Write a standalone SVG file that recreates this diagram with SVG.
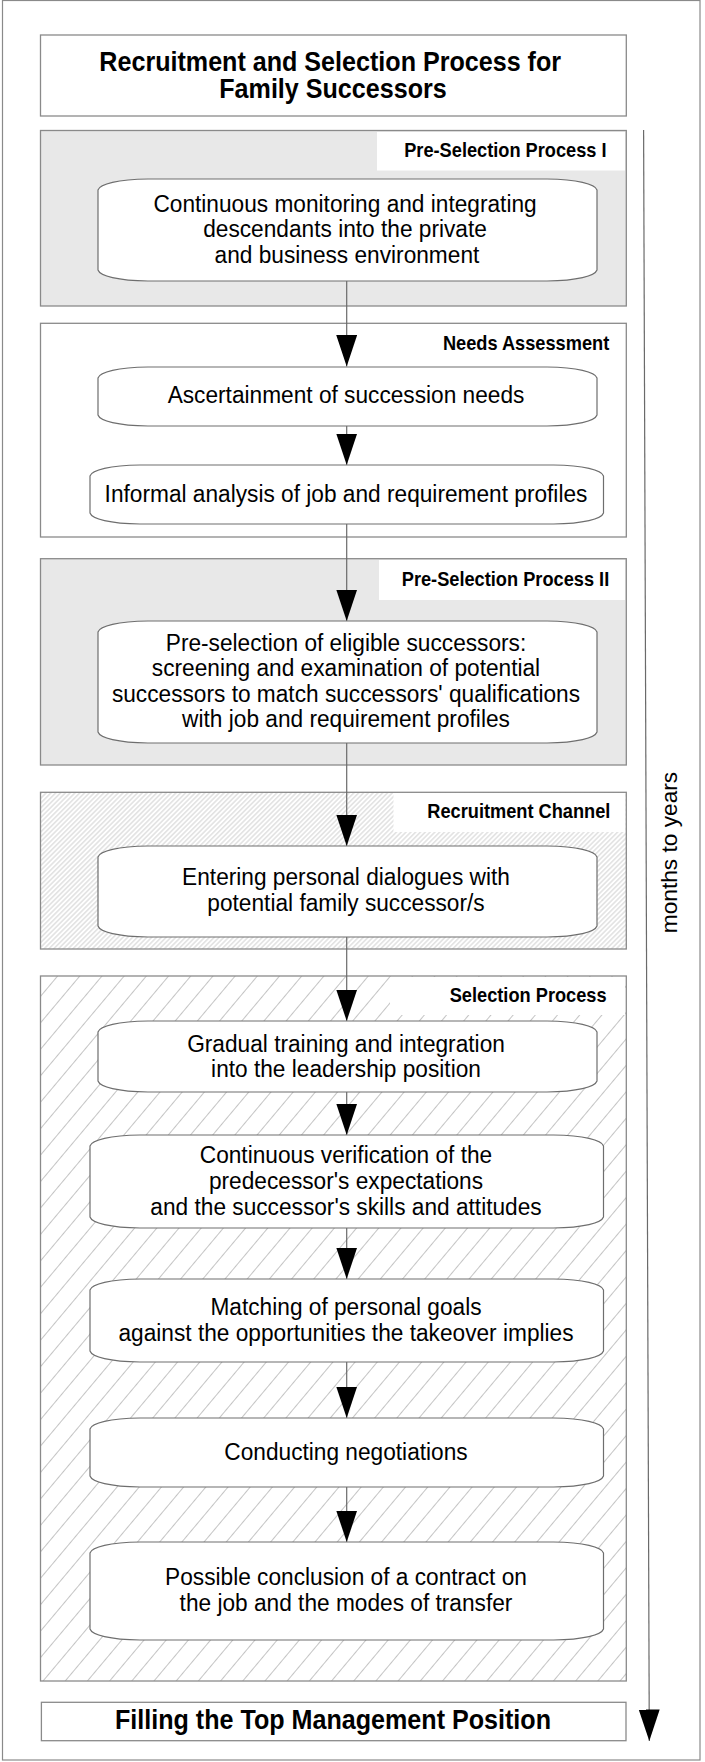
<svg xmlns="http://www.w3.org/2000/svg" width="705" height="1762" viewBox="0 0 705 1762">
  <defs>
    <style>
      .frame { fill: #ffffff; stroke: #8a8a8a; stroke-width: 1.2; }
      .box { stroke: #8a8a8a; stroke-width: 1.3; }
      .white { fill: #ffffff; }
      .grey { fill: #e8e8e8; }
      .labelbg { fill: #ffffff; stroke: none; }
      .node { fill: #ffffff; stroke: #6e6e6e; stroke-width: 1.2; }
      .conn { stroke: #6a6a6a; stroke-width: 1.2; fill: none; marker-end: url(#head); }
      /* condensed sans: glyphs are narrowed horizontally about each block's own axis */
      .title { font-family: "Liberation Sans", Arial, sans-serif; font-weight: bold; font-size: 27px; fill: #000; text-anchor: middle;
               transform-box: view-box; transform-origin: 333px 0px; transform: scaleX(0.93); }
      .label { font-family: "Liberation Sans", Arial, sans-serif; font-weight: bold; font-size: 19.6px; fill: #000; text-anchor: end;
               transform-box: view-box; transform-origin: 608px 0px; transform: scaleX(0.93); }
      .txt { font-family: "Liberation Sans", Arial, sans-serif; font-size: 24.4px; fill: #000; text-anchor: middle;
             transform-box: view-box; transform-origin: 346px 0px; transform: scaleX(0.93); }
      .vtxt { font-family: "Liberation Sans", Arial, sans-serif; font-size: 22.7px; fill: #000; text-anchor: middle; }
    </style>
    <marker id="head" markerUnits="userSpaceOnUse" markerWidth="32" markerHeight="22" refX="31.5" refY="10.5" orient="auto">
      <path d="M0,0 L31.5,10.5 L0,21 Z" fill="#000"/>
    </marker>
    <pattern id="hatchFine" patternUnits="userSpaceOnUse" width="3.4" height="10" patternTransform="rotate(45)">
      <line x1="1.7" y1="0" x2="1.7" y2="10" stroke="#c2c2c2" stroke-width="0.8"/>
    </pattern>
    <pattern id="hatchWide" patternUnits="userSpaceOnUse" width="17" height="10" patternTransform="rotate(40)">
      <line x1="8.5" y1="0" x2="8.5" y2="10" stroke="#c4c4c4" stroke-width="1"/>
    </pattern>
  </defs>

  <!-- outer frame -->
  <rect class="frame" x="2.5" y="0.5" width="697.5" height="1759.5"/>

  <!-- heading -->
  <g id="title">
    <rect class="box white" x="40.5" y="35" width="585.8" height="81"/>
    <text class="title" x="330" y="70.7">Recruitment and Selection Process for</text>
    <text class="title" x="333" y="98.3">Family Successors</text>
  </g>

  <!-- phase containers -->
  <g id="phase-preselection-1">
    <rect class="box grey" x="40.5" y="130.5" width="585.8" height="175.5"/>
    <rect class="labelbg" x="377" y="132" width="248" height="38.5"/>
    <text class="label" x="606.5" y="156.7">Pre-Selection Process I</text>
  </g>
  <g id="phase-needs">
    <rect class="box white" x="40.5" y="323.3" width="585.8" height="213.7"/>
    <text class="label" x="609.3" y="350">Needs Assessment</text>
  </g>
  <g id="phase-preselection-2">
    <rect class="box grey" x="40.5" y="558.7" width="585.8" height="206.3"/>
    <rect class="labelbg" x="379" y="560" width="246" height="40"/>
    <text class="label" x="609.3" y="586">Pre-Selection Process II</text>
  </g>
  <g id="phase-recruitment">
    <rect class="white" x="40.5" y="792.3" width="585.8" height="156.7"/>
    <rect fill="url(#hatchFine)" x="40.5" y="792.3" width="585.8" height="156.7"/>
    <rect class="labelbg" x="393.5" y="793" width="232" height="39"/>
    <rect class="box" fill="none" x="40.5" y="792.3" width="585.8" height="156.7"/>
    <text class="label" x="610.6" y="818.3">Recruitment Channel</text>
  </g>
  <g id="phase-selection">
    <rect class="white" x="40.5" y="976" width="585.8" height="705"/>
    <rect fill="url(#hatchWide)" x="40.5" y="976" width="585.8" height="705"/>
    <rect class="labelbg" x="390" y="977" width="235" height="38"/>
    <rect class="box" fill="none" x="40.5" y="976" width="585.8" height="705"/>
    <text class="label" x="606.5" y="1001.7">Selection Process</text>
  </g>
  <g id="result">
    <rect class="box white" x="41.4" y="1702.3" width="584.6" height="38.4"/>
    <text class="title" x="333" y="1729.3">Filling the Top Management Position</text>
  </g>

  <!-- time axis -->
  <g id="time-axis">
    <line class="conn" x1="643.6" y1="130" x2="649.3" y2="1741"/>
    <text class="vtxt" transform="translate(677,852.5) rotate(-90)">months to years</text>
  </g>

  <!-- flow connectors -->
  <g id="connectors">
    <line class="conn" x1="346.7" y1="281" x2="346.7" y2="366.5"/>
    <line class="conn" x1="346.7" y1="426" x2="346.7" y2="465"/>
    <line class="conn" x1="346.7" y1="524" x2="346.7" y2="621"/>
    <line class="conn" x1="346.7" y1="743" x2="346.7" y2="846"/>
    <line class="conn" x1="346.7" y1="937" x2="346.7" y2="1021"/>
    <line class="conn" x1="346.7" y1="1092" x2="346.7" y2="1135"/>
    <line class="conn" x1="346.7" y1="1228" x2="346.7" y2="1279"/>
    <line class="conn" x1="346.7" y1="1362" x2="346.7" y2="1418"/>
    <line class="conn" x1="346.7" y1="1487" x2="346.7" y2="1542"/>
  </g>

  <!-- process steps -->
  <g id="step-monitoring">
    <path class="node" d="M98,190 C100,184 118,179.5 148,179 L547,179 C577,179.5 595,184 597,190 L597,270 C595,276 577,280.5 547,281 L148,281 C118,280.5 100,276 98,270 Z"/>
    <text class="txt" x="345" y="212.3">Continuous monitoring and integrating</text>
    <text class="txt" x="345" y="237.3">descendants into the private</text>
    <text class="txt" x="347" y="263.3">and business environment</text>
  </g>
  <g id="step-needs">
    <path class="node" d="M98,378 C100,372 118,367.5 148,367 L547,367 C577,367.5 595,372 597,378 L597,415 C595,421 577,425.5 547,426 L148,426 C118,425.5 100,421 98,415 Z"/>
    <text class="txt" x="346" y="403.3">Ascertainment of succession needs</text>
  </g>
  <g id="step-profiles">
    <path class="node" d="M90,476 C92,470 110,465.5 140,465 L553.5,465 C583.5,465.5 601.5,470 603.5,476 L603.5,513 C601.5,519 583.5,523.5 553.5,524 L140,524 C110,523.5 92,519 90,513 Z"/>
    <text class="txt" x="346" y="501.7">Informal analysis of job and requirement profiles</text>
  </g>
  <g id="step-preselection">
    <path class="node" d="M98,632 C100,626 118,621.5 148,621 L547,621 C577,621.5 595,626 597,632 L597,732 C595,738 577,742.5 547,743 L148,743 C118,742.5 100,738 98,732 Z"/>
    <text class="txt" x="346" y="651">Pre-selection of eligible successors:</text>
    <text class="txt" x="346" y="676.5">screening and examination of potential</text>
    <text class="txt" x="346" y="702">successors to match successors' qualifications</text>
    <text class="txt" x="346" y="727">with job and requirement profiles</text>
  </g>
  <g id="step-dialogues">
    <path class="node" d="M98,857 C100,851 118,846.5 148,846 L547,846 C577,846.5 595,851 597,857 L597,926 C595,932 577,936.5 547,937 L148,937 C118,936.5 100,932 98,926 Z"/>
    <text class="txt" x="346" y="885">Entering personal dialogues with</text>
    <text class="txt" x="346" y="911.5">potential family successor/s</text>
  </g>
  <g id="step-training">
    <path class="node" d="M98,1032 C100,1026 118,1021.5 148,1021 L547,1021 C577,1021.5 595,1026 597,1032 L597,1081 C595,1087 577,1091.5 547,1092 L148,1092 C118,1091.5 100,1087 98,1081 Z"/>
    <text class="txt" x="346" y="1051.7">Gradual training and integration</text>
    <text class="txt" x="346" y="1076.7">into the leadership position</text>
  </g>
  <g id="step-verification">
    <path class="node" d="M90,1146 C92,1140 110,1135.5 140,1135 L553.5,1135 C583.5,1135.5 601.5,1140 603.5,1146 L603.5,1217 C601.5,1223 583.5,1227.5 553.5,1228 L140,1228 C110,1227.5 92,1223 90,1217 Z"/>
    <text class="txt" x="346" y="1163.3">Continuous verification of the</text>
    <text class="txt" x="346" y="1189.3">predecessor's expectations</text>
    <text class="txt" x="346" y="1215">and the successor's skills and attitudes</text>
  </g>
  <g id="step-matching">
    <path class="node" d="M90,1290 C92,1284 110,1279.5 140,1279 L553.5,1279 C583.5,1279.5 601.5,1284 603.5,1290 L603.5,1351 C601.5,1357 583.5,1361.5 553.5,1362 L140,1362 C110,1361.5 92,1357 90,1351 Z"/>
    <text class="txt" x="346" y="1315">Matching of personal goals</text>
    <text class="txt" x="346" y="1340.7">against the opportunities the takeover implies</text>
  </g>
  <g id="step-negotiations">
    <path class="node" d="M90,1429 C92,1423 110,1418.5 140,1418 L553.5,1418 C583.5,1418.5 601.5,1423 603.5,1429 L603.5,1476 C601.5,1482 583.5,1486.5 553.5,1487 L140,1487 C110,1486.5 92,1482 90,1476 Z"/>
    <text class="txt" x="346" y="1460">Conducting negotiations</text>
  </g>
  <g id="step-contract">
    <path class="node" d="M90,1553 C92,1547 110,1542.5 140,1542 L553.5,1542 C583.5,1542.5 601.5,1547 603.5,1553 L603.5,1629 C601.5,1635 583.5,1639.5 553.5,1640 L140,1640 C110,1639.5 92,1635 90,1629 Z"/>
    <text class="txt" x="346" y="1585">Possible conclusion of a contract on</text>
    <text class="txt" x="346" y="1610.7">the job and the modes of transfer</text>
  </g>
</svg>
